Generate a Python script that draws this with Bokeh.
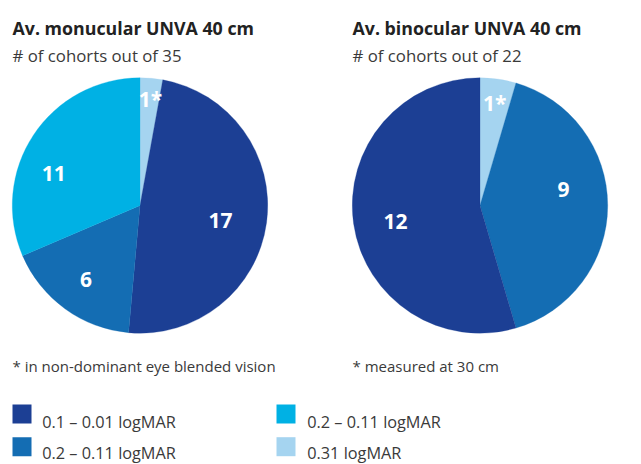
import math
from bokeh.plotting import figure
from bokeh.models import Range1d, ColumnDataSource
from bokeh.core.properties import value
from bokeh.embed import file_html
from bokeh.resources import INLINE

# ---------------- data ----------------
legend_labels = ["0.1 – 0.01 logMAR", "0.2 – 0.11 logMAR", "0.2 – 0.11 logMAR", "0.31 logMAR"]
legend_colors = ["#1c3f94", "#146db3", "#00b1e4", "#a5d4f0"]

left_title = "Av. monucular UNVA 40 cm"
left_subtitle = "# of cohorts out of 35"
left_note = "* in non-dominant eye blended vision"
left_cats = [3, 0, 1, 2]          # clockwise from 12 o'clock
left_values = [1, 17, 6, 11]
left_labels = ["1*", "17", "6", "11"]

right_title = "Av. binocular UNVA 40 cm"
right_subtitle = "# of cohorts out of 22"
right_note = "* measured at 30 cm"
right_cats = [3, 1, 0]
right_values = [1, 9, 12]
right_labels = ["1*", "9", "12"]

# ---------------- layout ----------------
W, H = 641, 464
FONT = "Open Sans"


def X(ix):
    return ix


def Y(iy):
    return H - iy


p = figure(width=W, height=H, x_range=Range1d(0, W), y_range=Range1d(0, H),
           output_backend="svg", toolbar_location=None, min_border=0,
           x_axis_type=None, y_axis_type=None)
p.grid.visible = False
p.outline_line_color = None
p.background_fill_color = "white"
p.border_fill_color = "white"

R = 127.7
# label placement: (radius, angle offset deg) per slice
left_lab_pos = [(107, 0.5), (82, 3), (92, 0), (92, -13)]
right_lab_pos = [(104, 0), (85, -11), (86, -2.5)]


def pie(cx, cy, cats, values, labels, labpos):
    total = float(sum(values))
    cum = 0.0
    xs, ys, st, en, cols = [], [], [], [], []
    lx, ly = [], []
    for c, v, (lr, off) in zip(cats, values, labpos):
        a0 = cum / total * 2 * math.pi
        cum += v
        a1 = cum / total * 2 * math.pi
        xs.append(X(cx)); ys.append(Y(cy))
        st.append(math.pi / 2 - a0)
        en.append(math.pi / 2 - a1)
        cols.append(legend_colors[c])
        mid = (a0 + a1) / 2 + math.radians(off)
        lx.append(X(cx) + lr * math.sin(mid))
        ly.append(Y(cy) + lr * math.cos(mid))
    src = ColumnDataSource(dict(x=xs, y=ys, s=st, e=en, c=cols))
    p.wedge(x="x", y="y", radius=R, start_angle="s", end_angle="e",
            direction="clock", fill_color="c", line_color="c", line_width=0.3,
            source=src)
    p.text(x=lx, y=ly, text=labels, text_font=value(FONT),
           text_font_size="21px", text_font_style="bold", text_color="white",
           text_align="center", text_baseline="middle")


pie(139.5, 205, left_cats, left_values, left_labels, left_lab_pos)
pie(479.5, 205, right_cats, right_values, right_labels, right_lab_pos)

# titles
p.text(x=[X(12), X(352)], y=[Y(27), Y(27)], text=[left_title, right_title],
       text_font=value(FONT), text_font_size="17.8px", text_font_style="bold",
       text_color="#222222", text_baseline="alphabetic")
p.text(x=[X(12), X(352)], y=[Y(55), Y(55)], text=[left_subtitle, right_subtitle],
       text_font=value(FONT), text_font_size="16.8px",
       text_color="#3a3a3a", text_baseline="alphabetic")
p.text(x=[X(12), X(352)], y=[Y(365), Y(365)], text=[left_note, right_note],
       text_font=value(FONT), text_font_size="15px",
       text_color="#3a3a3a", text_baseline="alphabetic")

# legend
lg_x = [21.5, 21.5, 285.5, 285.5]
lg_y = [413.5, 446.2, 413.5, 446.2]
p.rect(x=[X(v) for v in lg_x], y=[Y(v) for v in lg_y], width=19, height=19,
       fill_color=legend_colors, line_color=None)
lt_x = [41.7, 41.7, 306.7, 306.7]
lt_y = [421, 452.7, 421, 452.7]
p.text(x=[X(v) for v in lt_x], y=[Y(v) for v in lt_y], text=legend_labels,
       text_font=value(FONT), text_font_size="16.3px",
       text_color="#3a3a3a", text_baseline="alphabetic")

open("out.html", "w").write(file_html(p, INLINE))
